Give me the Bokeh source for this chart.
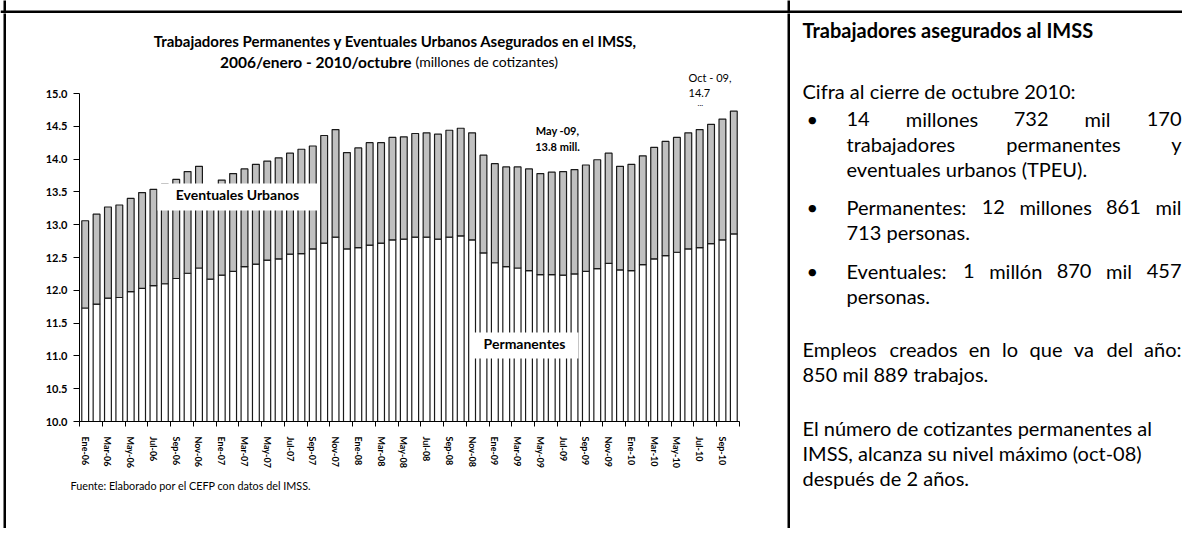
from bokeh.plotting import figure
from bokeh.layouts import row, column
from bokeh.models import (ColumnDataSource, Range1d, FixedTicker, Label, Title,
                          BoxAnnotation, NumeralTickFormatter)
from bokeh.embed import file_html
from bokeh.resources import INLINE

# ---------------- data ----------------
abrev = ["Ene", "Feb", "Mar", "Abr", "May", "Jun", "Jul", "Ago", "Sep", "Oct", "Nov", "Dic"]
anios = ["06", "07", "08", "09", "10"]
meses = [m + "-" + a for a in anios for m in abrev][:58]

permanentes = [11.73, 11.79, 11.88, 11.89, 11.98, 12.03, 12.07, 12.10, 12.18, 12.26, 12.34, 12.17,
               12.23, 12.29, 12.36, 12.40, 12.46, 12.48, 12.55, 12.56, 12.63, 12.72, 12.81, 12.63,
               12.65, 12.69, 12.72, 12.77, 12.78, 12.81, 12.81, 12.78, 12.81, 12.83, 12.77, 12.57,
               12.42, 12.36, 12.34, 12.30, 12.24, 12.24, 12.23, 12.25, 12.29, 12.33, 12.41, 12.31,
               12.30, 12.39, 12.48, 12.53, 12.58, 12.63, 12.65, 12.71, 12.77, 12.86]
eventuales = [1.33, 1.37, 1.39, 1.41, 1.42, 1.46, 1.47, 1.52, 1.51, 1.55, 1.55, 1.38,
              1.45, 1.49, 1.49, 1.52, 1.51, 1.54, 1.54, 1.59, 1.57, 1.64, 1.64, 1.47,
              1.52, 1.56, 1.53, 1.56, 1.56, 1.58, 1.59, 1.60, 1.63, 1.64, 1.63, 1.49,
              1.51, 1.52, 1.54, 1.55, 1.54, 1.56, 1.58, 1.59, 1.62, 1.66, 1.68, 1.58,
              1.62, 1.66, 1.70, 1.74, 1.75, 1.77, 1.80, 1.82, 1.84, 1.87]
y_ticks = [10.0, 10.5, 11.0, 11.5, 12.0, 12.5, 13.0, 13.5, 14.0, 14.5, 15.0]

# ---------------- page geometry (px) ----------------
W, H = 1182, 528
STRIP = 13            # top strip holding the table's top rule
LEFTW = 6             # left strip holding the table's left rule
MID = 786             # where the right-hand text cell starts
AX_L, AX_R = 79, 739  # x-axis extent (0 .. 58 months)
AX_T, AX_B = 93, 421  # y-axis extent (15 .. 10)
FONT = "Lato"


def blank_fig(x0, x1, y0, y1):
    f = figure(width=x1 - x0, height=y1 - y0, x_range=Range1d(x0, x1), y_range=Range1d(y1, y0),
               output_backend="svg", toolbar_location=None, title=None,
               x_axis_location=None, y_axis_location=None,
               min_border_left=0, min_border_right=0, min_border_top=0, min_border_bottom=0)
    f.outline_line_color = None
    f.grid.visible = False
    f.background_fill_color = "white"
    f.border_fill_color = "white"
    return f


def rule(f, x0, y0, x1, y1):
    f.add_layout(BoxAnnotation(left=x0, right=x1, top=y0, bottom=y1,
                               fill_color="black", fill_alpha=1, line_color=None))


# ---------------- top strip ----------------
strip = blank_fig(0, W, 0, STRIP)
rule(strip, 0, 10, W, 12.5)
rule(strip, 3, -5, 5.5, STRIP + 5)
rule(strip, 787, -5, 789.5, STRIP + 5)

# ---------------- left strip ----------------
left = blank_fig(0, LEFTW, STRIP, H)
rule(left, 3, STRIP - 5, 5.5, H + 5)

# ---------------- chart ----------------
px_per_month = (AX_R - AX_L) / len(meses)
px_per_unit = (AX_B - AX_T) / 5.0
src = ColumnDataSource(dict(x=[i + 0.5 for i in range(len(meses))],
                            permanentes=permanentes, eventuales=eventuales))

p = figure(width=MID - LEFTW, height=H - STRIP,
           x_range=Range1d(0, (MID - AX_L) / px_per_month),
           y_range=Range1d(10, 10 + (AX_B - STRIP) / px_per_unit),
           output_backend="svg", toolbar_location=None, title=None,
           min_border_left=AX_L - LEFTW, min_border_right=0,
           min_border_top=0, min_border_bottom=H - AX_B)
p.outline_line_color = None
p.xgrid.visible = False
p.ygrid.visible = False
p.background_fill_color = "white"
p.border_fill_color = "white"

p.vbar_stack(["permanentes", "eventuales"], x="x", width=0.6, source=src,
             fill_color=["white", "#c0c0c0"], line_color="#1a1a1a", line_width=1.2)

# y axis
p.yaxis.bounds = (10, 15)
p.yaxis.ticker = FixedTicker(ticks=y_ticks)
p.yaxis.formatter = NumeralTickFormatter(format="0.0")
p.yaxis.major_tick_out = 6
p.yaxis.major_tick_in = 0
p.yaxis.minor_tick_line_color = None
p.yaxis.major_label_standoff = 6
p.yaxis.major_label_text_font = FONT
p.yaxis.major_label_text_font_style = "bold"
p.yaxis.major_label_text_font_size = "11px"
p.yaxis.major_label_text_color = "black"
p.yaxis.axis_line_color = "black"

# x axis: labels at every other month, tick marks at boundaries
label_pos = [i + 0.5 for i in range(0, len(meses), 2)]
p.xaxis.bounds = (0, len(meses))
p.xaxis.ticker = FixedTicker(ticks=label_pos, minor_ticks=list(range(0, len(meses) + 1, 2)))
p.xaxis.major_label_overrides = {i + 0.5: meses[i] for i in range(0, len(meses), 2)}
p.xaxis.major_tick_line_color = None
p.xaxis.major_tick_out = 0
p.xaxis.major_tick_in = 0
p.xaxis.minor_tick_out = 5
p.xaxis.minor_tick_in = 0
p.xaxis.minor_tick_line_color = "black"
p.xaxis.major_label_orientation = "vertical"
p.xaxis.major_label_standoff = 10
p.xaxis.major_label_text_font = FONT
p.xaxis.major_label_text_font_style = "bold"
p.xaxis.major_label_text_font_size = "9px"
p.xaxis.major_label_text_color = "black"
p.xaxis.axis_line_color = "black"

p.add_layout(Title(text="Fuente: Elaborado por el CEFP con datos del IMSS.", align="left",
                   offset=70 - AX_L, standoff=13, text_font=FONT, text_font_size="10.8px",
                   text_font_style="normal", text_color="black"), "below")


def sx(rx):
    return rx - AX_L


def sy(ry):
    return AX_B - ry


def ctxt(t, rx, ry, size, style="normal", align="left"):
    p.add_layout(Label(x=sx(rx), y=sy(ry), x_units="screen", y_units="screen", text=t,
                       text_font=FONT, text_font_size=f"{size}px", text_font_style=style,
                       text_align=align, text_baseline="middle", text_color="black"))


def cbox(x0, y0, x1, y1, color):
    p.add_layout(BoxAnnotation(left=sx(x0), right=sx(x1), top=sy(y0), bottom=sy(y1),
                               left_units="screen", right_units="screen",
                               top_units="screen", bottom_units="screen",
                               fill_color=color, fill_alpha=1, line_color=None))


ctxt("Trabajadores Permanentes y Eventuales Urbanos Asegurados en el IMSS,", 395, 40, 15, "bold", "center")
ctxt("2006/enero - 2010/octubre", 411, 61, 15.5, "bold", "right")
ctxt("(millones de cotizantes)", 415, 61, 14, "normal", "left")

cbox(157, 183, 318, 210, "white")
ctxt("Eventuales Urbanos", 237, 194, 14, "bold", "center")
cbox(470, 332, 578, 358, "white")
ctxt("Permanentes", 524, 343, 14, "bold", "center")

ctxt("May -09,", 557, 130, 11, "bold", "center")
ctxt("13.8 mill.", 557, 146, 11, "bold", "center")
ctxt("Oct - 09,", 688, 77, 11, "normal", "left")
ctxt("14.7", 688, 92, 11, "normal", "left")
ctxt("...", 697, 102, 8, "normal", "left")

# ---------------- right text cell ----------------
t = blank_fig(MID, W, STRIP, H)
rule(t, 787, STRIP - 5, 789.5, H + 5)

CW = {" ": 0.193, ".": 0.22, ",": 0.22, ":": 0.25, "(": 0.3, ")": 0.3, "-": 0.33,
      "i": 0.24, "l": 0.24, "j": 0.24, "t": 0.36, "r": 0.37, "f": 0.33, "m": 0.83,
      "s": 0.43, "c": 0.46, "z": 0.44, "y": 0.5, "a": 0.49, "e": 0.52, "ñ": 0.56}


def wid(word, size):
    w = 0
    for ch in word:
        if ch in CW:
            w += CW[ch]
        elif ch.isdigit():
            w += 0.58
        elif ch.isupper():
            w += 0.64
        else:
            w += 0.55
    return w * size


def ttxt(s, x, y, size, style="normal", align="left"):
    t.add_layout(Label(x=x, y=y, text=s, text_font=FONT, text_font_size=f"{size}px",
                       text_font_style=style, text_align=align, text_baseline="middle",
                       text_color="black"))


def justified(line, x0, x1, y, size):
    words = line.split(" ")
    ws = [wid(w, size) for w in words]
    gap = (x1 - x0 - sum(ws)) / (len(words) - 1)
    x = x0
    for k, w in enumerate(words):
        if k == len(words) - 1:
            ttxt(w, x1, y, size, align="right")
        else:
            ttxt(w, x, y, size)
        x += ws[k] + gap


RS = 20
L0, LB, LI, RE = 802, 806, 846, 1181
ttxt("Trabajadores asegurados al IMSS", L0, 29, RS, "bold")
ttxt("Cifra al cierre de octubre 2010:", L0, 90, RS)
ttxt("•", LB, 118, RS)
justified("14 millones 732 mil 170", LI, RE, 118, RS)
justified("trabajadores permanentes y", LI, RE, 143, RS)
ttxt("eventuales urbanos (TPEU).", LI, 168, RS)
ttxt("•", LB, 206, RS)
justified("Permanentes: 12 millones 861 mil", LI, RE, 206, RS)
ttxt("713 personas.", LI, 231, RS)
ttxt("•", LB, 270, RS)
justified("Eventuales: 1 millón 870 mil 457", LI, RE, 270, RS)
ttxt("personas.", LI, 295, RS)
justified("Empleos creados en lo que va del año:", L0, RE, 348, RS)
ttxt("850 mil 889 trabajos.", L0, 373, RS)
ttxt("El número de cotizantes permanentes al", L0, 427, RS)
ttxt("IMSS, alcanza su nivel máximo (oct-08)", L0, 452, RS)
ttxt("después de 2 años.", L0, 477, RS)

layout = column(strip, row(column(left), p, column(t)))
open("out.html", "w").write(file_html(layout, INLINE))
